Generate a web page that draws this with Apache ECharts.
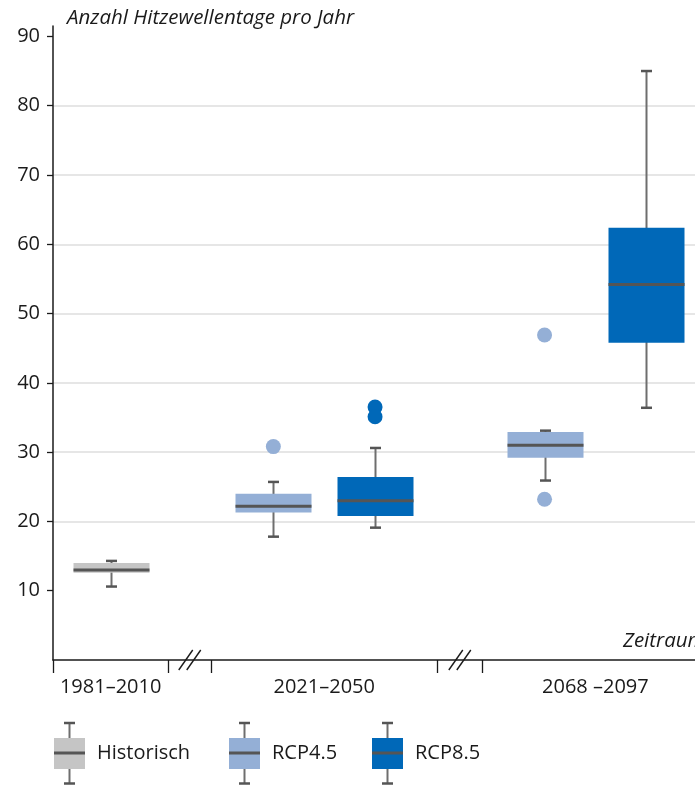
<!DOCTYPE html>
<html><head><meta charset="utf-8">
<script src="https://cdn.jsdelivr.net/npm/echarts@6/dist/echarts.min.js"></script>
<style>html,body{margin:0;padding:0;background:#fff}#c{width:695px;height:785px}</style>
</head><body><div id="c"></div>
<script>
// ---------- data ----------
const categories = ['1981–2010', '2021–2050', '2068 –2097'];
const seriesNames = ['Historisch', 'RCP4.5', 'RCP8.5'];
// box values: [lower whisker, Q1, median, Q3, upper whisker]
const historischBoxes = [[10.6, 12.6, 13.0, 14.0, 14.3]];
const historischPeriods = [0];
const rcp45Boxes = [[17.8, 21.3, 22.2, 24.0, 25.7], [25.9, 29.2, 31.0, 32.9, 33.1]];
const rcp45Periods = [1, 2];
const rcp85Boxes = [[19.1, 20.8, 23.0, 26.4, 30.6], [36.4, 45.8, 54.2, 62.4, 85.0]];
const rcp85Periods = [1, 2];
// outliers: [period index, value]
const historischOutliers = [];
const rcp45Outliers = [[1, 30.8], [2, 46.9], [2, 23.2]];
const rcp85Outliers = [[1, 36.5], [1, 35.1]];
const yTickValues = [10, 20, 30, 40, 50, 60, 70, 80, 90];
const yAxisTitle = 'Anzahl Hitzewellentage pro Jahr';
const xAxisTitle = 'Zeitraum';

// ---------- layout / style ----------
const FONT = '"Open Sans", "Noto Sans", sans-serif';
const FS = 20;
const TEXT = '#1a1a1a';
const colors = ['#c5c5c5', '#94afd6', '#0068b8'];
const WHISKER = '#6e6e6e', CAP = '#555555', MEDIAN = '#555555';
const BOX_W = 76, CAP_W = 11;
const GRID_LEFT = 53, GRID_TOP = 26, GRID_BOTTOM = 125;
const UNIT_PX = 113;
const XMAX = (695 - GRID_LEFT) / UNIT_PX;
const segments = [[0, 1.02], [1.4, 3.4], [3.8, 5.8]];
const segCenters = segments.map(s => (s[0] + s[1]) / 2);
const breaks = [(segments[0][1] + segments[1][0]) / 2, (segments[1][1] + segments[2][0]) / 2];
const seriesOffset = [0, -0.45, 0.45];

function boxData(boxes, periods, si) {
  return boxes.map((b, i) => [segCenters[periods[i]] + seriesOffset[si]].concat(b));
}
function outlierData(outs, si) {
  return outs.map(o => [segCenters[o[0]] + seriesOffset[si], o[1]]);
}

function renderBox(color) {
  return function (params, api) {
    const x = api.value(0);
    const pLow = api.coord([x, api.value(1)]);
    const pQ1 = api.coord([x, api.value(2)]);
    const pMed = api.coord([x, api.value(3)]);
    const pQ3 = api.coord([x, api.value(4)]);
    const pHigh = api.coord([x, api.value(5)]);
    const cx = Math.round(pLow[0]) + 0.5;
    return {
      type: 'group',
      children: [
        { type: 'line', shape: { x1: cx, y1: pHigh[1], x2: cx, y2: pLow[1] }, style: { stroke: WHISKER, lineWidth: 2 } },
        { type: 'line', shape: { x1: cx - CAP_W / 2, y1: pHigh[1], x2: cx + CAP_W / 2, y2: pHigh[1] }, style: { stroke: CAP, lineWidth: 2.5 } },
        { type: 'line', shape: { x1: cx - CAP_W / 2, y1: pLow[1], x2: cx + CAP_W / 2, y2: pLow[1] }, style: { stroke: CAP, lineWidth: 2.5 } },
        { type: 'rect', shape: { x: cx - BOX_W / 2, y: pQ3[1], width: BOX_W, height: pQ1[1] - pQ3[1] }, style: { fill: color } },
        { type: 'line', shape: { x1: cx - BOX_W / 2, y1: pMed[1], x2: cx + BOX_W / 2, y2: pMed[1] }, style: { stroke: MEDIAN, lineWidth: 3 } }
      ]
    };
  };
}

function renderBreak(params, api) {
  const p = api.coord([api.value(0), 0]);
  const ch = [];
  [-4, 4].forEach(dx => {
    ch.push({ type: 'line', shape: { x1: p[0] + dx - 7, y1: p[1] + 10, x2: p[0] + dx + 7, y2: p[1] - 10 }, style: { stroke: TEXT, lineWidth: 1.4 } });
  });
  return { type: 'group', children: ch };
}

const allBoxes = [
  boxData(historischBoxes, historischPeriods, 0),
  boxData(rcp45Boxes, rcp45Periods, 1),
  boxData(rcp85Boxes, rcp85Periods, 2)
];
const allOutliers = [
  outlierData(historischOutliers, 0),
  outlierData(rcp45Outliers, 1),
  outlierData(rcp85Outliers, 2)
];

const series = [];
seriesNames.forEach((name, i) => {
  series.push({
    name: name, type: 'custom', renderItem: renderBox(colors[i]),
    encode: { x: 0, y: [1, 2, 3, 4, 5] }, data: allBoxes[i], clip: false, z: 3
  });
  series.push({
    name: name, type: 'scatter', symbol: 'circle', symbolSize: 15,
    itemStyle: { color: colors[i], opacity: 1 }, data: allOutliers[i], z: 4
  });
});
series.push({
  type: 'custom', renderItem: renderBreak, encode: { x: 0 }, data: breaks.map(b => [b]), clip: false, z: 5, silent: true
});

// legend built from series names / colours
const legendIconX = [54, 229, 372];
const legendGraphics = [];
seriesNames.forEach((name, i) => {
  const x = legendIconX[i], cx = x + 15.5;
  legendGraphics.push(
    { type: 'line', shape: { x1: cx, y1: 723, x2: cx, y2: 783.5 }, style: { stroke: WHISKER, lineWidth: 2 } },
    { type: 'line', shape: { x1: cx - 5.5, y1: 723, x2: cx + 5.5, y2: 723 }, style: { stroke: CAP, lineWidth: 2.5 } },
    { type: 'line', shape: { x1: cx - 5.5, y1: 783.5, x2: cx + 5.5, y2: 783.5 }, style: { stroke: CAP, lineWidth: 2.5 } },
    { type: 'rect', shape: { x: x, y: 738, width: 31, height: 31 }, style: { fill: colors[i] } },
    { type: 'line', shape: { x1: x, y1: 753, x2: x + 31, y2: 753 }, style: { stroke: MEDIAN, lineWidth: 3 } },
    { type: 'text', x: x + 43, y: 753, style: { text: name, font: FS + 'px ' + FONT, fill: TEXT, verticalAlign: 'middle' } }
  );
});

const chart = echarts.init(document.getElementById('c'), null, { renderer: 'canvas' });
chart.setOption({
  animation: false,
  backgroundColor: '#fff',
  grid: { left: GRID_LEFT, right: 0, top: GRID_TOP, bottom: GRID_BOTTOM, containLabel: false },
  xAxis: {
    type: 'value', min: 0, max: XMAX,
    splitLine: { show: false },
    axisLine: { show: true, lineStyle: { color: TEXT, width: 1.5 } },
    axisTick: { show: true, customValues: [0, segments[0][1], segments[1][0], segments[1][1], segments[2][0]], length: 13, lineStyle: { color: TEXT, width: 1.3 } },
    axisLabel: {
      customValues: segCenters, margin: 17, fontSize: FS, fontFamily: FONT, color: TEXT,
      formatter: v => {
        let best = 0;
        segCenters.forEach((c, i) => { if (Math.abs(c - v) < Math.abs(segCenters[best] - v)) best = i; });
        return categories[best];
      }
    }
  },
  yAxis: {
    type: 'value', min: 0, max: 91.5, interval: 10,
    axisLine: { show: true, lineStyle: { color: TEXT, width: 1.5 } },
    axisTick: { show: true, customValues: yTickValues, length: 6, lineStyle: { color: TEXT, width: 1.3 } },
    axisLabel: { customValues: yTickValues, margin: 13, fontSize: FS, fontFamily: FONT, color: TEXT },
    splitLine: { show: true, showMinLine: false, showMaxLine: false, lineStyle: { color: '#dedede', width: 1.5 } }
  },
  graphic: [
    { type: 'text', x: 67, y: 18, style: { text: yAxisTitle, font: 'italic ' + (FS + 0.5) + 'px ' + FONT, fill: TEXT, verticalAlign: 'middle' } },
    { type: 'text', x: 623, y: 641, style: { text: xAxisTitle, font: 'italic ' + (FS + 0.5) + 'px ' + FONT, fill: TEXT, verticalAlign: 'middle' } }
  ].concat(legendGraphics),
  series: series
});
</script>
</body></html>
